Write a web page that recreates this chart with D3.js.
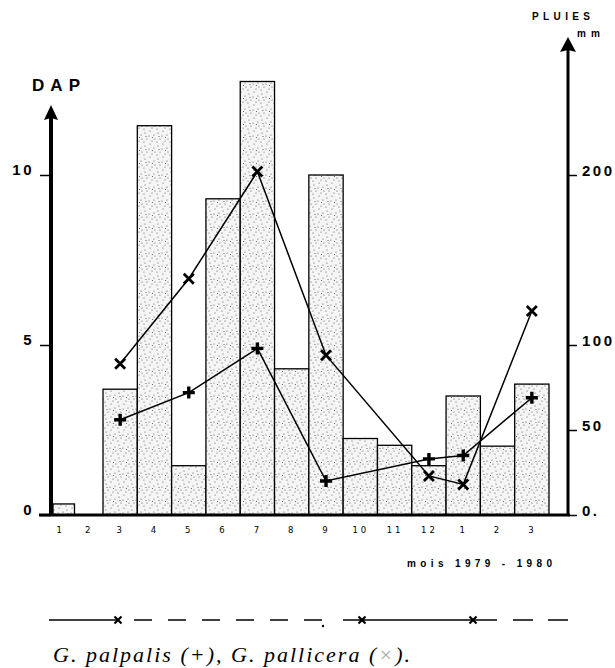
<!DOCTYPE html>
<html>
<head>
<meta charset="utf-8">
<script src="https://cdn.jsdelivr.net/npm/d3@7"></script>
<style>
  body { margin: 0; background: #fff; }
  svg { display: block; }
  .tickLabels text { font-family: "Liberation Sans", Arial, sans-serif; font-weight: bold; font-size: 15px; letter-spacing: 2.5px; fill: #000; }
  .tickLabels line { stroke: #000; stroke-width: 1.5; }
  .monthAxis text { font-family: "DejaVu Sans", sans-serif; font-size: 8.5px; letter-spacing: 3px; fill: #000; }
  .bar { fill: url(#stipple); stroke: #000; stroke-width: 1.3; }
  .series { fill: none; stroke: #000; stroke-width: 1.5; }
  .marker { fill: none; stroke: #000; stroke-linecap: butt; }
  .label { font-family: "Liberation Sans", Arial, sans-serif; font-weight: bold; fill: #000; }
</style>
</head>
<body>
<div id="chart"></div>
<script>
const width = 615
const height = 668

// Data
const months = ["1", "2", "3", "4", "5", "6", "7", "8", "9", "10", "11", "12", "1", "2", "3"]
const rain = [6.5, 0, 74, 229, 29, 186, 255, 86, 200, 45, 41, 29, 70, 40.5, 77]          // mm
const palpalis = [null, null, 2.8, null, 3.6, null, 4.9, null, 1.0, null, null, 1.65, 1.75, null, 3.45]   // DAP (+)
const pallicera = [null, null, 4.45, null, 6.95, null, 10.1, null, 4.7, null, null, 1.15, 0.9, null, 6.0] // DAP (x)
const dapTicks = [0, 5, 10]
const rainTicks = [0, 50, 100, 200]

const leftAxisX = 51
const rightAxisX = 568
const baseY = 515

const svg = d3.select("div#chart").append("svg").attr("width", width).attr("height", height)

// Stipple pattern for the rain bars
const defs = svg.append("defs")
const pattern = defs.append("pattern").attr("id", "stipple")
    .attr("patternUnits", "userSpaceOnUse").attr("width", 13).attr("height", 13)
pattern.append("rect").attr("width", 13).attr("height", 13).attr("fill", "#f5f5f5")
const dots = [[2, 3], [7, 1], [11, 5], [4, 9], [9, 11], [1, 12], [6, 6], [12, 9], [3, 6.5], [9.5, 7.5]]
pattern.selectAll("circle").data(dots).enter().append("circle")
    .attr("cx", d => d[0]).attr("cy", d => d[1]).attr("r", 0.6).attr("fill", "#555")

// Scales: first two months are squeezed next to the axis, as in the original
const x = d3.scaleLinear().domain([0, 2, months.length]).range([46, 103, 549])
const yDap = d3.scaleLinear().domain([0, 10]).range([baseY, 175])
const yRain = d3.scaleLinear().domain([0, 200]).range([baseY, 175])

// Rain bars
svg.append("g").attr("id", "bars").selectAll("rect")
    .data(rain.map((v, i) => ({i, v})).filter(d => d.v > 0))
    .enter().append("rect")
    .attr("class", "bar")
    .attr("x", d => Math.max(x(d.i), leftAxisX + 2))
    .attr("y", d => yRain(d.v))
    .attr("width", d => x(d.i + 1) - Math.max(x(d.i), leftAxisX + 2))
    .attr("height", d => baseY - yRain(d.v))

// Axes
const leftAxis = svg.append("g").attr("class", "tickLabels").attr("transform", `translate(${leftAxisX},0)`)
    .call(d3.axisLeft(yDap).tickValues(dapTicks).tickSize(11).tickPadding(6))
leftAxis.select(".domain").remove()
leftAxis.selectAll("text").attr("y", -5)

const rightAxis = svg.append("g").attr("class", "tickLabels").attr("transform", `translate(${rightAxisX},0)`)
    .call(d3.axisRight(yRain).tickValues(rainTicks).tickSize(9).tickPadding(5)
        .tickFormat(d => d === 0 ? "0." : d))
rightAxis.select(".domain").remove()
rightAxis.selectAll("text").attr("y", -4)

const monthAxis = svg.append("g").attr("class", "monthAxis").attr("transform", `translate(0,${baseY})`)
    .call(d3.axisBottom(x).tickValues(months.map((m, i) => i + 0.5)).tickSize(0).tickPadding(12)
        .tickFormat((d, i) => months[i]))
monthAxis.select(".domain").remove()

// Baseline and vertical axis lines with arrows
svg.append("line").attr("x1", 39).attr("x2", rightAxisX + 2).attr("y1", baseY).attr("y2", baseY)
    .attr("stroke", "#000").attr("stroke-width", 3)
svg.append("line").attr("x1", leftAxisX).attr("x2", leftAxisX).attr("y1", baseY + 1).attr("y2", 118)
    .attr("stroke", "#000").attr("stroke-width", 4)
svg.append("path").attr("d", `M${leftAxisX},105L${leftAxisX + 7},120L${leftAxisX},118L${leftAxisX - 7},120Z`)
    .attr("fill", "#000")
svg.append("line").attr("x1", rightAxisX).attr("x2", rightAxisX).attr("y1", baseY + 1).attr("y2", 50)
    .attr("stroke", "#000").attr("stroke-width", 3)
svg.append("path").attr("d", `M${rightAxisX},37L${rightAxisX + 8},52L${rightAxisX},50L${rightAxisX - 8},52Z`)
    .attr("fill", "#000")

// Series lines
const line = d3.line().x(d => x(d.i + 0.5)).y(d => yDap(d.v))
const points = arr => arr.map((v, i) => ({i, v})).filter(d => d.v !== null)

svg.append("path").attr("class", "series").attr("d", line(points(pallicera)))
svg.append("path").attr("class", "series").attr("d", line(points(palpalis)))

svg.append("g").selectAll("path").data(points(pallicera)).enter().append("path")
    .attr("class", "marker").attr("stroke-width", 2.8)
    .attr("transform", d => `translate(${x(d.i + 0.5)},${yDap(d.v)})`)
    .attr("d", "M-5,-5L5,5M-5,5L5,-5")
svg.append("g").selectAll("path").data(points(palpalis)).enter().append("path")
    .attr("class", "marker").attr("stroke-width", 3.4)
    .attr("transform", d => `translate(${x(d.i + 0.5)},${yDap(d.v)})`)
    .attr("d", "M-6,0H6M0,-6V6")

// Labels
svg.append("text").attr("class", "label").attr("x", 32).attr("y", 91).attr("font-size", 17)
    .attr("textLength", 48).attr("lengthAdjust", "spacing").text("DAP")
svg.append("text").attr("class", "label").attr("x", 532).attr("y", 20).attr("font-size", 10)
    .attr("textLength", 58).attr("lengthAdjust", "spacing").text("PLUIES")
svg.append("text").attr("class", "label").attr("x", 577).attr("y", 37).attr("font-size", 10)
    .attr("textLength", 23).attr("lengthAdjust", "spacing").text("mm")
svg.append("text").attr("class", "label").attr("x", 407).attr("y", 567).attr("font-size", 10)
    .attr("textLength", 145).attr("lengthAdjust", "spacing").text("mois 1979 - 1980")

// Line-style key under the chart
const keyY = 620
const key = svg.append("g").attr("stroke", "#000").attr("stroke-width", 1.3)
key.append("line").attr("x1", 49).attr("x2", 118).attr("y1", keyY).attr("y2", keyY)
key.append("line").attr("x1", 134).attr("x2", 325).attr("y1", keyY).attr("y2", keyY).attr("stroke-dasharray", "18,16")
key.append("line").attr("x1", 343).attr("x2", 497).attr("y1", keyY).attr("y2", keyY)
key.append("line").attr("x1", 513).attr("x2", 568).attr("y1", keyY).attr("y2", keyY).attr("stroke-dasharray", "20,15")
key.selectAll("path").data([118, 362, 473]).enter().append("path")
    .attr("transform", d => `translate(${d},${keyY})`).attr("stroke-width", 2.2)
    .attr("d", "M-3.5,-3.5L3.5,3.5M-3.5,3.5L3.5,-3.5")
svg.append("circle").attr("cx", 323).attr("cy", 626).attr("r", 1.2).attr("fill", "#000")

// Caption
const caption = svg.append("text").attr("x", 53).attr("y", 662)
    .attr("font-family", "'Liberation Serif', 'DejaVu Serif', serif").attr("font-style", "italic")
    .attr("font-size", 22).attr("textLength", 357).attr("lengthAdjust", "spacing")
caption.append("tspan").text("G. palpalis (+), G. pallicera (")
caption.append("tspan").attr("fill", "#aaa").text("×")
caption.append("tspan").text(").")
</script>
</body>
</html>
